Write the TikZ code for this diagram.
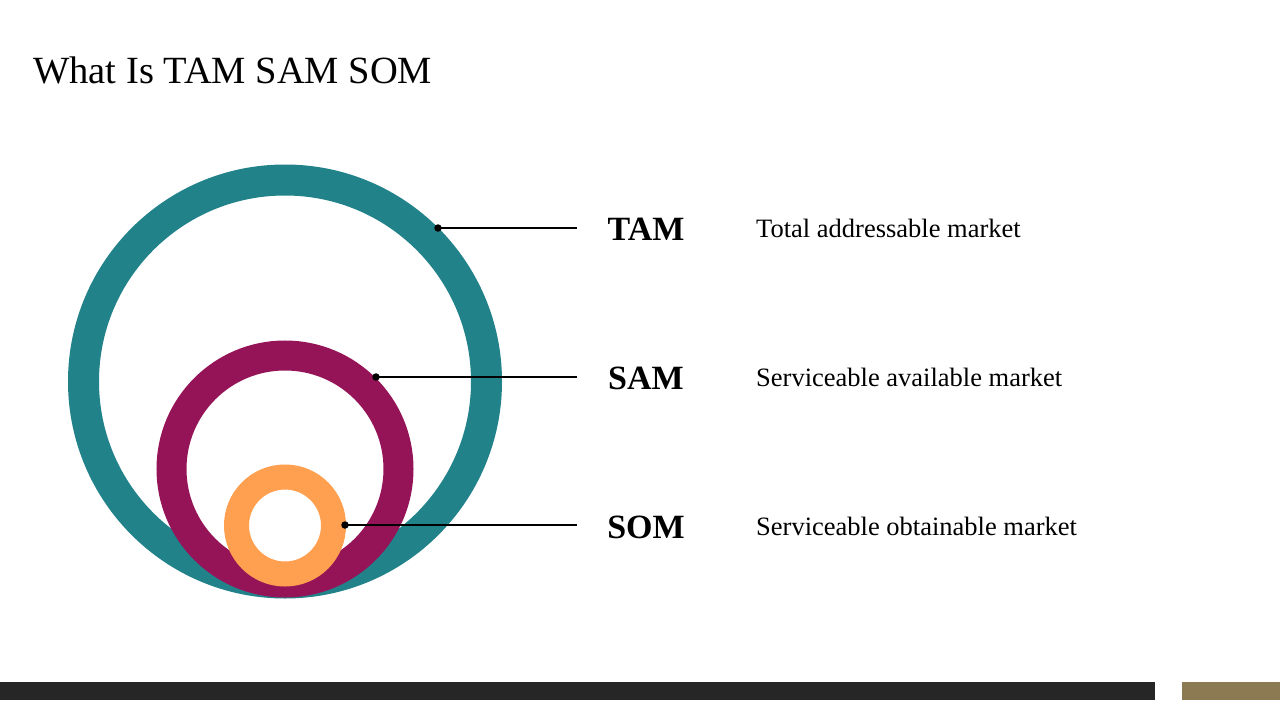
\documentclass[tikz,border=0pt]{standalone}
\usepackage{fontspec}
\setmainfont{Liberation Serif}
\definecolor{tamc}{HTML}{21828A}
\definecolor{samc}{HTML}{951458}
\definecolor{somc}{HTML}{FF9F50}
\definecolor{barA}{HTML}{262626}
\definecolor{barB}{HTML}{8B7A52}
\begin{document}
\begin{tikzpicture}[x=1pt,y=-1pt,
  dotnode/.style={circle,fill=black,inner sep=0pt,minimum size=7.5pt},
  leader/.style={draw=black,line width=1.8pt},
  abbr/.style={anchor=base,inner sep=0pt,font=\fontsize{34}{38}\selectfont\bfseries},
  desc/.style={anchor=base west,inner sep=0pt,font=\fontsize{26.5}{31}\selectfont},
]
\useasboundingbox (0,0) rectangle (1280,720);
\fill[white] (0,0) rectangle (1280,720);
% title
\node[anchor=base west,inner sep=0pt,font=\fontsize{38.5}{46}\selectfont] (title) at (33,83) {What Is TAM SAM SOM};
% rings
\draw[tamc,line width=31pt] (285,381.5) circle[radius=201.5];
\draw[samc,line width=30pt] (285,469) circle[radius=113.5];
\draw[somc,line width=25pt] (285,525.5) circle[radius=48.5];
% dots and ends
\node[dotnode] (d1) at (438,228) {};
\node[dotnode] (d2) at (376,377) {};
\node[dotnode] (d3) at (345,525) {};
\coordinate (e1) at (577,228);
\coordinate (e2) at (577,377);
\coordinate (e3) at (577,525);
\draw[leader] (d1.center) -- (e1);
\draw[leader] (d2.center) -- (e2);
\draw[leader] (d3.center) -- (e3);
% labels
\node[abbr] (tam) at (646,240) {TAM};
\node[abbr] (sam) at (646,389) {SAM};
\node[abbr] (som) at (646,538) {SOM};
\node[desc] (tamd) at (756,237) {Total addressable market};
\node[desc] (samd) at (756,386) {Serviceable available market};
\node[desc] (somd) at (756,535) {Serviceable obtainable market};
% bottom bars
\fill[barA] (0,682) rectangle (1155,700);
\fill[barB] (1182,682) rectangle (1280,700);
\end{tikzpicture}
\end{document}
